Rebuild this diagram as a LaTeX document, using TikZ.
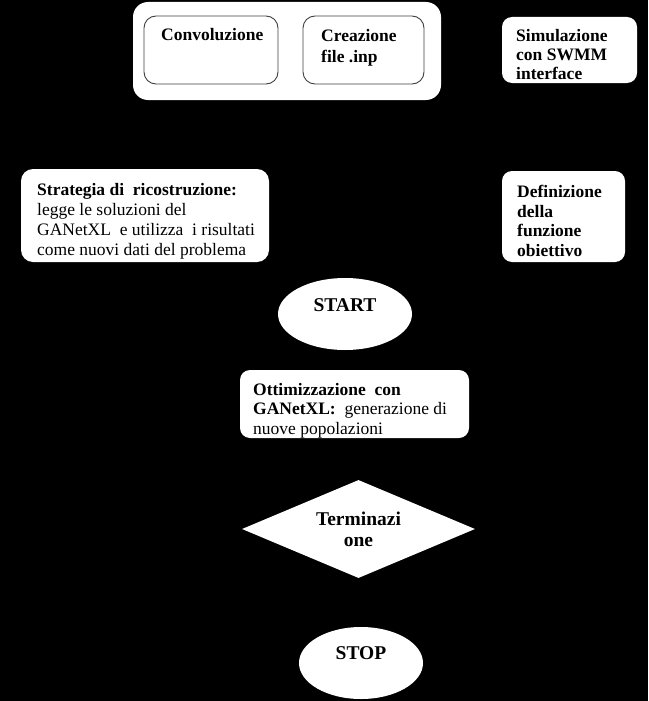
\documentclass[tikz,border=0pt]{standalone}
\usepackage{fontspec}
\setmainfont{Liberation Serif}
\usetikzlibrary{shapes.geometric}
\begin{document}
\begin{tikzpicture}[x=1pt,y=-1pt,
  wbox/.style={fill=white,draw=none,rounded corners=#1,inner sep=0pt,outer sep=0pt},
  gbox/.style={fill=white,draw=black!75,line width=0.9pt,rounded corners=#1,inner sep=0pt,outer sep=0pt},
  wellipse/.style={ellipse,fill=white,draw=none,inner sep=0pt},
  wdiamond/.style={diamond,fill=white,draw=none,inner sep=0pt},
  txt/.style={inner sep=0pt,anchor=north west,align=left,font=\fontsize{17.5}{20}\selectfont},
  ctxt/.style={inner sep=0pt,align=center,font=\fontsize{19.5}{21}\selectfont\bfseries}]
\fill[black] (0,0) rectangle (648,701);
\useasboundingbox (0,0) rectangle (648,701);
% boxes
\node[wbox=15pt,minimum width=308pt,minimum height=98pt] (outer) at (287,51) {};
\node[gbox=12pt,minimum width=134pt,minimum height=68pt] (conv) at (211,50) {};
\node[gbox=12pt,minimum width=121pt,minimum height=68pt] (crea) at (363.5,50) {};
\node[wbox=10pt,minimum width=135pt,minimum height=66pt] (sim) at (569.5,50) {};
\node[wbox=12pt,minimum width=248pt,minimum height=93pt] (strat) at (145,215.5) {};
\node[wbox=10pt,minimum width=123pt,minimum height=91pt] (def) at (563.5,216.5) {};
\node[wellipse,minimum width=134pt,minimum height=72pt] (start) at (345,314) {};
\node[wbox=10pt,minimum width=229pt,minimum height=68pt] (ott) at (354.5,404) {};
\node[wdiamond,minimum width=233pt,minimum height=98pt] (term) at (358.5,529) {};
\node[wellipse,minimum width=124pt,minimum height=72pt] (stop) at (361,663) {};
% texts
\node[txt] (convt) at (161,28) {\bfseries Convoluzione};
\node[txt,font=\fontsize{17.5}{21}\selectfont] (creat) at (321,29) {\bfseries Creazione\\\bfseries file .inp};
\node[txt,font=\fontsize{17.5}{19}\selectfont] (simt) at (516,29) {\bfseries Simulazione\\\bfseries con SWMM\\\bfseries interface};
\node[txt] (stratt) at (37,183) {\bfseries Strategia di\ \ ricostruzione:\\legge le soluzioni del\\GANetXL\ \ e utilizza\ \ i risultati\\come nuovi dati del problema};
\node[txt,font=\fontsize{17.5}{19.5}\selectfont] (deft) at (517,185) {\bfseries Definizione\\\bfseries della\\\bfseries funzione\\\bfseries obiettivo};
\node[ctxt] (startt) at (345,305) {START};
\node[txt,font=\fontsize{17.5}{19.5}\selectfont] (ottt) at (253,383) {\bfseries Ottimizzazione\ \ con\\\textbf{GANetXL:}\ \ generazione di\\nuove popolazioni};
\node[ctxt,anchor=north] (termt) at (358.5,512) {Terminazi\\one};
\node[ctxt] (stopt) at (361,653.5) {STOP};
\end{tikzpicture}
\end{document}
